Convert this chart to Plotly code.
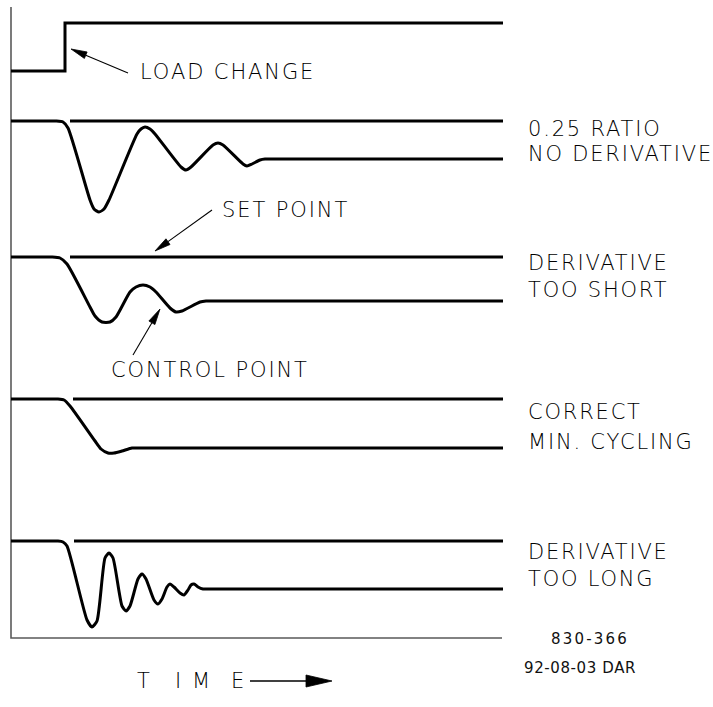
import numpy as np
import plotly.graph_objects as go

# ---------------- data (time units, process level units) ----------------
load_t = [11, 65, 65, 503]
load_v = [71, 71, 23, 23]

setpoint_start = [70, 70, 73, 74]
setpoint_end = 503
setpoint_level = [121, 257, 399, 541]

ratio_t = [11, 50, 56, 63, 68, 90, 94, 99, 104, 109, 137, 141, 145, 150, 155, 181, 186, 191, 213, 218, 223, 243, 247, 252, 260, 265, 272, 503]
ratio_v = [121, 121, 121, 122, 128, 200, 209, 212, 209, 200, 134, 129, 127, 129, 134, 167, 170, 167, 145, 143, 145, 164, 166, 164, 160, 159, 159, 159]

short_t = [11, 46, 52, 60, 67, 90, 95, 102, 110, 116, 130, 136, 143, 150, 156, 170, 176, 182, 200, 206, 213, 503]
short_v = [257, 257, 257, 258, 264, 307, 316, 322, 322, 317, 292, 287, 285, 287, 292, 308, 312, 311, 302, 301, 301, 301]

correct_t = [11, 52, 58, 64, 70, 95, 101, 108, 114, 122, 132, 138, 145, 503]
correct_v = [399, 399, 399, 400, 406, 441, 449, 453, 453, 451, 448, 448, 448, 448]

long_t = [11, 52, 58, 63, 67, 87, 92, 97, 105, 109, 113, 122, 126, 130, 138, 142, 146, 154, 158, 162, 167, 170, 174, 180, 184, 188, 191, 194, 198, 203, 210, 503]
long_v = [541, 541, 541, 542, 546, 620, 627, 621, 558, 553, 558, 606, 611, 606, 579, 574, 579, 600, 604, 599, 587, 584, 587, 593, 595, 590, 585, 584, 587, 589, 589, 589]

axis_t = [11, 11, 502]
axis_v = [7, 638, 638]

# callouts: (label, text position, arrow tail, arrow tip)
callout_labels = ["LOAD CHANGE", "SET POINT", "CONTROL POINT"]
callout_text_xy = [(138, 72), (220, 210), (109, 370)]
callout_tail = [(128, 73), (212, 210), (133, 355)]
callout_tip = [(71, 49), (155, 251), (160, 309)]

case_labels = ["0.25 RATIO", "NO DERIVATIVE", "DERIVATIVE", "TOO SHORT",
               "CORRECT", "MIN. CYCLING", "DERIVATIVE", "TOO LONG"]
case_label_y = [129, 154, 263, 290, 412, 442, 552, 579]
case_label_x = 526

time_letters = ["T", "I", "M", "E"]
time_letter_x = [143, 178, 201, 237]
time_y = 681
time_arrow_tail = (250, 681)
time_arrow_tip = (332, 681)

drawing_no = ["830-366", "92-08-03 DAR"]
drawing_no_xy = [(590, 639), (580, 668)]

# ---------------- figure ----------------
W, H = 713, 707
fig = go.Figure()

FONT = "DejaVu Sans"

fig.add_trace(go.Scatter(x=axis_t, y=axis_v, mode="lines",
                         line=dict(color="#5a5a5a", width=1.6), hoverinfo="skip"))

fig.add_trace(go.Scatter(x=load_t, y=load_v, mode="lines",
                         line=dict(color="black", width=3), hoverinfo="skip"))

for s, lv in zip(setpoint_start, setpoint_level):
    fig.add_trace(go.Scatter(x=[s, setpoint_end], y=[lv, lv], mode="lines",
                             line=dict(color="black", width=3), hoverinfo="skip"))

for tt, vv in [(ratio_t, ratio_v), (short_t, short_v), (correct_t, correct_v), (long_t, long_v)]:
    fig.add_trace(go.Scatter(x=tt, y=vv, mode="lines",
                             line=dict(color="black", width=3, shape="spline", smoothing=0.6),
                             hoverinfo="skip"))


def arrow(tail, tip, head_len, head_w, lw):
    tail = np.array(tail, float)
    tip = np.array(tip, float)
    u = (tip - tail) / np.linalg.norm(tip - tail)
    n = np.array([-u[1], u[0]])
    base = tip - u * head_len
    fig.add_trace(go.Scatter(x=[tail[0], base[0]], y=[tail[1], base[1]], mode="lines",
                             line=dict(color="black", width=lw), hoverinfo="skip"))
    p1 = base + n * head_w / 2
    p2 = base - n * head_w / 2
    fig.add_trace(go.Scatter(x=[tip[0], p1[0], p2[0], tip[0]], y=[tip[1], p1[1], p2[1], tip[1]],
                             mode="lines", fill="toself", fillcolor="black",
                             line=dict(color="black", width=0.8), hoverinfo="skip"))


for tail, tip in zip(callout_tail, callout_tip):
    arrow(tail, tip, 16, 7, 1.1)
arrow(time_arrow_tail, time_arrow_tip, 26, 12, 1.3)

text_font = dict(family=FONT, size=21, color="black", weight=200)


def spaced(s, px):
    return f'<span style="letter-spacing:{px}px">{s}</span>'


for lab, (x, y) in zip(callout_labels, callout_text_xy):
    fig.add_annotation(x=x, y=y, text=spaced(lab, 1.9), showarrow=False, xanchor="left",
                       yanchor="middle", font=text_font)

for lab, y in zip(case_labels, case_label_y):
    fig.add_annotation(x=case_label_x, y=y, text=spaced(lab, 1.8), showarrow=False,
                       xanchor="left", yanchor="middle", font=text_font)

for lab, x in zip(time_letters, time_letter_x):
    fig.add_annotation(x=x, y=time_y, text=lab, showarrow=False, xanchor="center",
                       yanchor="middle", font=text_font)

drawing_spacing = [2.2, 0.6]
for lab, (x, y), sp in zip(drawing_no, drawing_no_xy, drawing_spacing):
    fig.add_annotation(x=x, y=y, text=spaced(lab, sp), showarrow=False, xanchor="center",
                       yanchor="middle", font=dict(family=FONT, size=15, color="#111111"))

fig.update_layout(
    width=W, height=H,
    margin=dict(l=0, r=0, t=0, b=0, pad=0),
    paper_bgcolor="white", plot_bgcolor="white",
    showlegend=False,
    xaxis=dict(range=[0, W], visible=False, fixedrange=True),
    yaxis=dict(range=[H, 0], visible=False, fixedrange=True),
)

fig.write_html("out.html", post_script="document.body.style.margin='0';",
               config={"displayModeBar": False})
